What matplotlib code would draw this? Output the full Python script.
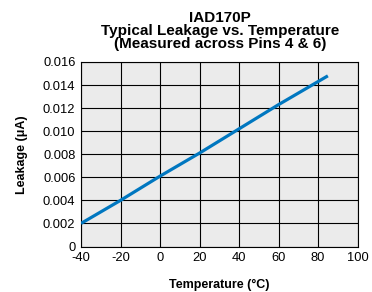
import matplotlib
matplotlib.use("Agg")
import matplotlib.pyplot as plt
from matplotlib.ticker import MultipleLocator, FuncFormatter

plt.rcParams['font.family'] = ['Liberation Sans', 'DejaVu Sans']
plt.rcParams['axes.unicode_minus'] = False

# data
temp = [-40, -20, 0, 20, 40, 60, 80, 85]
leak = [0.0020, 0.0040, 0.0061, 0.0081, 0.0102, 0.0123, 0.0143, 0.0148]

fig = plt.figure(figsize=(3.72, 2.92), dpi=100)
ax = fig.add_axes([81/372, 1 - 246.5/292, 276.5/372, 184.5/292])
ax.set_facecolor('#ebebeb')

ax.plot(temp, leak, color='#0077c0', linewidth=2.3, solid_capstyle='butt', zorder=3)

ax.set_xlim(-40, 100)
ax.set_ylim(0, 0.016)
ax.xaxis.set_major_locator(MultipleLocator(20))
ax.yaxis.set_major_locator(MultipleLocator(0.002))
ax.yaxis.set_major_formatter(FuncFormatter(lambda v, p: '0' if abs(v) < 1e-9 else '%.3f' % v))
ax.grid(True, color='black', linewidth=0.8)
ax.set_axisbelow(True)
ax.tick_params(length=0, labelsize=9.3, pad=4)
for s in ax.spines.values():
    s.set_linewidth(0.8)

ax.set_xlabel('Temperature (°C)', fontsize=9, fontweight='bold', labelpad=11)
ax.set_ylabel('Leakage (μA)', fontsize=9, fontweight='bold', labelpad=11)
fig.text(0.592, 1 - 10.5/292, 'IAD170P\nTypical Leakage vs. Temperature\n(Measured across Pins 4 & 6)',
         ha='center', va='top', fontsize=11, fontweight='bold', linespacing=0.93)

fig.savefig('out.png', dpi=100)
